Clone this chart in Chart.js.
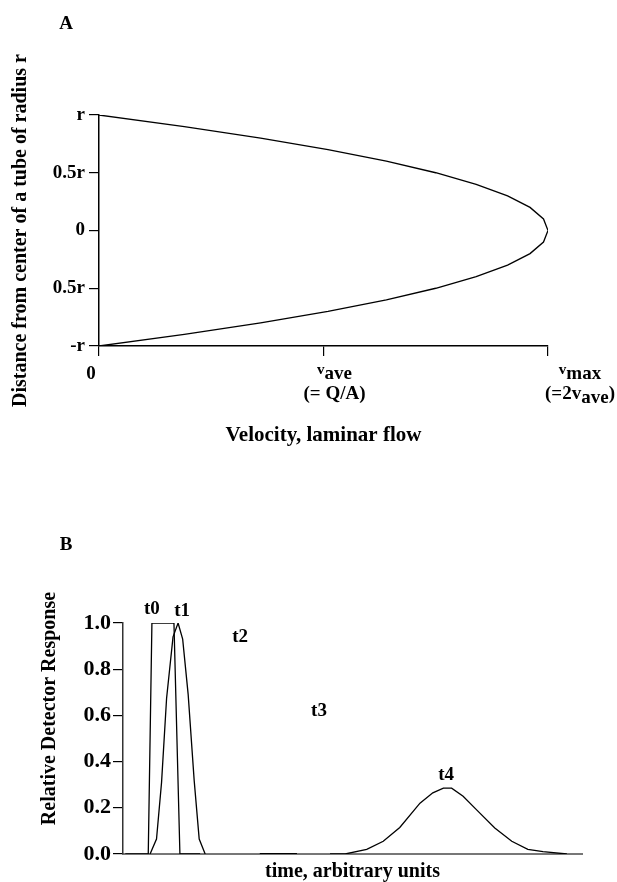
<!DOCTYPE html>
<html>
<head>
<meta charset="utf-8">
<script src="https://cdn.jsdelivr.net/npm/chart.js@4.4.1/dist/chart.umd.min.js"></script>
<style>
  body { margin: 0; background: #fff; width: 617px; height: 882px; position: relative; overflow: hidden; }
  canvas { position: absolute; left: 0; }
  #chartA { top: 0; }
  #chartB { top: 450px; }
</style>
</head>
<body>
<canvas id="chartA" width="617" height="450"></canvas>
<canvas id="chartB" width="617" height="432"></canvas>
<script>
// ---- panel A: velocity profile across the tube
var radialPos = [1, 0.9, 0.8, 0.7, 0.6, 0.5, 0.4, 0.3, 0.2, 0.1, 0, -0.1, -0.2, -0.3, -0.4, -0.5, -0.6, -0.7, -0.8, -0.9, -1];
var velocity  = [0, 0.38, 0.72, 1.02, 1.28, 1.5, 1.68, 1.82, 1.92, 1.98, 2, 1.98, 1.92, 1.82, 1.68, 1.5, 1.28, 1.02, 0.72, 0.38, 0];
var radialTicks  = [-1, -0.5, 0, 0.5, 1];
var radialLabels = ['-r', '0.5r', '0', '0.5r', 'r'];
var velocityTicks = [0, 1, 2];
// each label: lines of [text, shift] parts (-1 raised small, 1 lowered)
var velocityLabels = [
  [[['0', 0]]],
  [[['v', -1], ['ave', 0]], [['(= Q/A)', 0]]],
  [[['v', -1], ['max', 0]], [['(=2v', 0], ['ave', 1], [')', 0]]]
];

// ---- panel B: detector response at successive times
var t0Time = [0.5, 5.5, 6.3, 11.1, 12.4, 16.8];
var t0Resp = [0, 0, 1, 1, 0, 0];
var t1Time = [5.9, 7.3, 8.4, 9.5, 10.9, 12.0, 13.0, 14.2, 15.5, 16.6, 17.9];
var t1Resp = [0, 0.065, 0.31, 0.675, 0.94, 1.0, 0.93, 0.69, 0.32, 0.065, 0];
var t2Time = [29.8, 37.9];
var t2Resp = [0, 0];
var t4Time = [45.1, 48.4, 53.1, 56.7, 60.3, 64.7, 67.5, 69.8, 71.6, 74.1, 77.1, 81.0, 84.7, 88.2, 91.5, 96.7];
var t4Resp = [0, 0, 0.02, 0.055, 0.115, 0.22, 0.265, 0.285, 0.285, 0.25, 0.19, 0.113, 0.055, 0.02, 0.01, 0];
var peakNames = ['t0', 't1', 't2', 't3', 't4'];
var peakNameTime = [6.3, 12.9, 25.5, 42.7, 70.4];
var peakNameResp = [1.06, 1.05, 0.94, 0.62, 0.34];

var FONT = 'Liberation Serif';
Chart.defaults.font.family = FONT;
Chart.defaults.font.weight = 'bold';
Chart.defaults.color = '#000';

function pts(xs, ys) {
  return xs.map(function(x, i) { return {x: x, y: ys[i]}; });
}

function lineSet(data, width) {
  return {
    data: data,
    showLine: true,
    borderColor: '#000',
    borderWidth: width || 1.3,
    pointRadius: 0,
    fill: false,
    tension: 0
  };
}

// panel letter in the top-left corner
var panelLetter = {
  id: 'panelLetter',
  afterDraw: function(chart, args, opts) {
    var ctx = chart.ctx;
    ctx.save();
    ctx.font = 'bold 19px ' + FONT;
    ctx.fillStyle = '#000';
    ctx.textAlign = 'center';
    ctx.textBaseline = 'middle';
    ctx.fillText(opts.text, opts.x, opts.y);
    ctx.restore();
  }
};

// velocity tick labels with the raised / lowered bits
var labelShift = [-8, 11, 32];
var velocityText = {
  id: 'velocityText',
  afterDraw: function(chart) {
    var ctx = chart.ctx;
    var xs = chart.scales.x;
    function fontFor(s) { return 'bold ' + (s < 0 ? 15 : 19) + 'px ' + FONT; }
    ctx.save();
    ctx.fillStyle = '#000';
    ctx.textAlign = 'left';
    ctx.textBaseline = 'middle';
    velocityTicks.forEach(function(v, i) {
      var cx = xs.getPixelForValue(v) + labelShift[i];
      velocityLabels[i].forEach(function(parts, j) {
        var w = 0;
        parts.forEach(function(p) { ctx.font = fontFor(p[1]); w += ctx.measureText(p[0]).width; });
        var x = cx - w / 2;
        var y = xs.top + 28 + j * 20;
        parts.forEach(function(p) {
          ctx.font = fontFor(p[1]);
          ctx.fillText(p[0], x, y + p[1] * 4);
          x += ctx.measureText(p[0]).width;
        });
      });
    });
    ctx.restore();
  }
};

new Chart(document.getElementById('chartA'), {
  type: 'scatter',
  data: { datasets: [lineSet(pts(velocity, radialPos), 1.3)] },
  options: {
    responsive: false,
    animation: false,
    layout: { padding: { left: 0, right: 69, top: 115, bottom: 0 } },
    plugins: {
      legend: { display: false },
      tooltip: { enabled: false },
      panelLetter: { text: 'A', x: 66, y: 24 }
    },
    scales: {
      x: {
        type: 'linear', min: 0, max: 2,
        afterBuildTicks: function(s) { s.ticks = velocityTicks.map(function(v) { return {value: v}; }); },
        afterFit: function(s) { s.height = 104; },
        ticks: { display: false },
        grid: { drawOnChartArea: false, tickLength: 10, color: '#000', lineWidth: 1.2 },
        border: { color: '#000', width: 1.5 },
        title: { display: true, text: 'Velocity, laminar flow', font: { size: 21, weight: 'bold' }, padding: { top: 0, bottom: 2 } }
      },
      y: {
        type: 'linear', min: -1, max: 1,
        afterBuildTicks: function(s) { s.ticks = radialTicks.map(function(v) { return {value: v}; }); },
        afterFit: function(s) { s.width = 99; },
        ticks: {
          font: { size: 19, weight: 'bold' },
          padding: 4,
          callback: function(v) { return radialLabels[radialTicks.indexOf(v)]; }
        },
        grid: { drawOnChartArea: false, tickLength: 10, color: '#000', lineWidth: 1.2 },
        border: { color: '#000', width: 1.5 },
        title: { display: true, text: 'Distance from center of a tube of radius r', font: { size: 20, weight: 'bold' }, padding: { top: 9, bottom: 0 } }
      }
    }
  },
  plugins: [panelLetter, velocityText]
});

// peak names and the rotated response title
var peakText = {
  id: 'peakText',
  afterDraw: function(chart) {
    var ctx = chart.ctx;
    var xs = chart.scales.x, ys = chart.scales.y;
    ctx.save();
    ctx.fillStyle = '#000';
    ctx.font = 'bold 19px ' + FONT;
    ctx.textAlign = 'center';
    ctx.textBaseline = 'middle';
    peakNames.forEach(function(n, i) {
      ctx.fillText(n, xs.getPixelForValue(peakNameTime[i]), ys.getPixelForValue(peakNameResp[i]));
    });
    // axis title, set a little above the axis middle as in the source
    var a = chart.chartArea;
    ctx.translate(50, (a.top + a.bottom) / 2 - 30);
    ctx.rotate(-Math.PI / 2);
    ctx.font = 'bold 20px ' + FONT;
    ctx.fillText('Relative Detector Response', 0, 0);
    ctx.restore();
  }
};

new Chart(document.getElementById('chartB'), {
  type: 'scatter',
  data: {
    datasets: [
      lineSet(pts(t0Time, t0Resp)),
      lineSet(pts(t1Time, t1Resp)),
      lineSet(pts(t2Time, t2Resp), 2),
      lineSet(pts(t4Time, t4Resp))
    ]
  },
  options: {
    responsive: false,
    animation: false,
    layout: { padding: { left: 0, right: 35, top: 173, bottom: 0 } },
    plugins: {
      legend: { display: false },
      tooltip: { enabled: false },
      panelLetter: { text: 'B', x: 66, y: 95 }
    },
    scales: {
      x: {
        type: 'linear', min: 0, max: 100,
        afterFit: function(s) { s.height = 28; },
        ticks: { display: false },
        grid: { display: false },
        border: { color: '#777', width: 2 },
        title: { display: true, text: 'time, arbitrary units', font: { size: 20, weight: 'bold', lineHeight: 1 }, padding: { top: 0, bottom: 0 } }
      },
      y: {
        type: 'linear', min: 0, max: 1,
        afterFit: function(s) { s.width = 123; },
        ticks: {
          stepSize: 0.2,
          font: { size: 22, weight: 'bold' },
          padding: 2,
          callback: function(v) { return v.toFixed(1); }
        },
        grid: { drawOnChartArea: false, tickLength: 10, color: '#000', lineWidth: 1.2 },
        border: { color: '#333', width: 1.5 }
      }
    }
  },
  plugins: [panelLetter, peakText]
});
</script>
</body>
</html>
